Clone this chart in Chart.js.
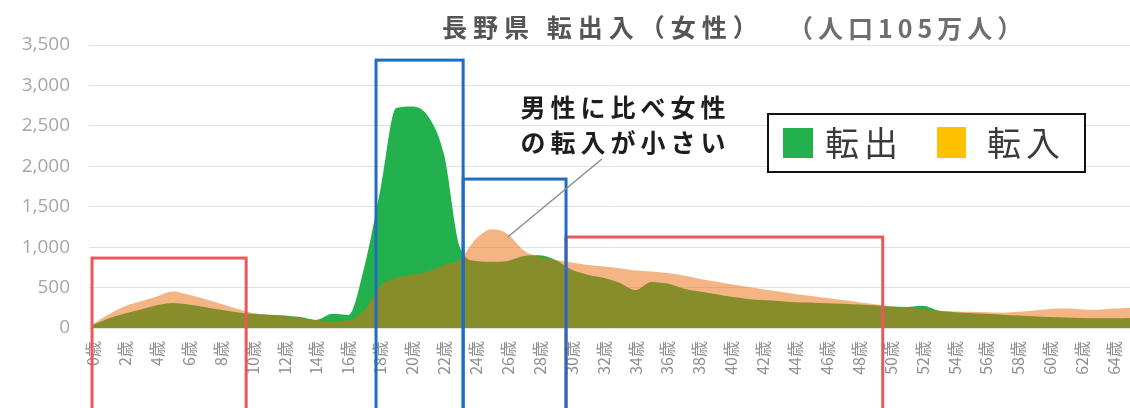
<!DOCTYPE html>
<html lang="ja">
<head>
<meta charset="utf-8">
<title>長野県 転出入（女性）</title>
<script src="https://cdn.jsdelivr.net/npm/chart.js@4.4.1/dist/chart.umd.min.js"></script>
<style>
  html, body { margin: 0; padding: 0; background: #fff; overflow: hidden; }
  #wrap { position: relative; width: 1130px; height: 408px; }
</style>
</head>
<body>
<div id="wrap"><canvas id="chart" width="1130" height="408"></canvas></div>
<script>
// 年齢（0〜65歳）
const ages = [
  '0歳','1歳','2歳','3歳','4歳','5歳','6歳','7歳','8歳','9歳',
  '10歳','11歳','12歳','13歳','14歳','15歳','16歳','17歳','18歳','19歳',
  '20歳','21歳','22歳','23歳','24歳','25歳','26歳','27歳','28歳','29歳',
  '30歳','31歳','32歳','33歳','34歳','35歳','36歳','37歳','38歳','39歳',
  '40歳','41歳','42歳','43歳','44歳','45歳','46歳','47歳','48歳','49歳',
  '50歳','51歳','52歳','53歳','54歳','55歳','56歳','57歳','58歳','59歳',
  '60歳','61歳','62歳','63歳','64歳','65歳'
];

// 転出（人）
const outflow = [
  40, 120, 180, 230, 280, 310, 290, 260, 225, 195,
  175, 165, 155, 135, 100, 175, 160, 750, 1700, 2720,
  2740, 2620, 2150, 1000, 830, 820, 830, 890, 900, 840,
  720, 660, 620, 560, 470, 570, 550, 490, 450, 420,
  385, 360, 345, 335, 320, 315, 305, 300, 290, 280,
  265, 260, 275, 215, 195, 185, 175, 165, 155, 145,
  135, 130, 125, 120, 120, 125
];

// 転入（人）
const inflow = [
  50, 170, 270, 330, 390, 450, 410, 360, 300, 240,
  185, 165, 150, 125, 95, 85, 95, 220, 520, 620,
  660, 700, 780, 850, 1100, 1220, 1160, 960, 880, 840,
  810, 780, 760, 740, 710, 700, 680, 650, 610, 575,
  540, 510, 480, 450, 420, 395, 370, 345, 320, 295,
  270, 255, 235, 210, 205, 200, 195, 190, 200, 215,
  235, 240, 230, 225, 240, 250
];

const yTicks = [0, 500, 1000, 1500, 2000, 2500, 3000, 3500];

// 強調枠： [開始年齢, 終了年齢, 上端の人数]
const redBoxes = [[-0.06, 9.6, 865], [29.65, 49.5, 1125]];
const blueBoxes = [[17.74, 23.2, 3313], [23.2, 29.65, 1842]];

// 吹き出し： 文字の左端・各行の高さ、引き出し線の始点と終点（年齢, 人数）
const noteLines = ['男性に比べ女性', 'の転入が小さい'];
const noteAnchor = [26.8, 2732, 2300];
const noteLeader = [[31.9, 2090], [26.0, 1125]];

const FONT = '"Noto Sans CJK JP", "Noto Sans", sans-serif';
const GREEN = 'rgb(34,177,76)';
const ORANGE_FILL = 'rgba(235,105,10,0.5)';

// タイトル・注記・枠・凡例をまとめて描く
const overlay = {
  id: 'overlay',
  afterDatasetsDraw(chart) {
    const ctx = chart.ctx;
    const x = chart.scales.x, y = chart.scales.y;
    const bottom = chart.height + 5;

    ctx.save();
    ctx.lineWidth = 3;
    ctx.strokeStyle = '#e8585c';
    redBoxes.forEach(([a, b, top]) => {
      const x1 = x.getPixelForValue(a), x2 = x.getPixelForValue(b), y1 = y.getPixelForValue(top);
      ctx.strokeRect(x1, y1, x2 - x1, bottom - y1);
    });
    ctx.strokeStyle = '#1f6cc0';
    blueBoxes.forEach(([a, b, top]) => {
      const x1 = x.getPixelForValue(a), x2 = x.getPixelForValue(b), y1 = y.getPixelForValue(top);
      ctx.strokeRect(x1, y1, x2 - x1, bottom - y1);
    });

    // 引き出し線
    ctx.strokeStyle = '#8c8c8c';
    ctx.lineWidth = 1.5;
    ctx.beginPath();
    ctx.moveTo(x.getPixelForValue(noteLeader[0][0]), y.getPixelForValue(noteLeader[0][1]));
    ctx.lineTo(x.getPixelForValue(noteLeader[1][0]), y.getPixelForValue(noteLeader[1][1]));
    ctx.stroke();

    ctx.textBaseline = 'middle';
    ctx.textAlign = 'left';
    ctx.fillStyle = '#1e1e1e';
    ctx.font = 'bold 25px ' + FONT;
    ctx.letterSpacing = '5px';
    const nx = x.getPixelForValue(noteAnchor[0]);
    ctx.fillText(noteLines[0], nx, y.getPixelForValue(noteAnchor[1]));
    ctx.fillText(noteLines[1], nx, y.getPixelForValue(noteAnchor[2]));

    // タイトル
    ctx.fillStyle = '#555';
    ctx.letterSpacing = '6px';
    ctx.fillText('長野県 転出入（女性）', 442, 27);
    ctx.font = 'bold 25px ' + FONT;
    ctx.letterSpacing = '5px';
    ctx.fillStyle = '#6e6e6e';
    ctx.fillText('（人口105万人）', 788, 28);

    // 凡例
    ctx.fillStyle = '#fff';
    ctx.fillRect(768, 114, 317, 58);
    ctx.strokeStyle = '#111';
    ctx.lineWidth = 2;
    ctx.strokeRect(768, 114, 317, 58);
    ctx.fillStyle = GREEN;
    ctx.fillRect(783, 128, 30, 30);
    ctx.fillStyle = '#ffc000';
    ctx.fillRect(937, 127, 29, 31);
    ctx.fillStyle = '#3a3a3a';
    ctx.font = '34px ' + FONT;
    ctx.letterSpacing = '5px';
    ctx.fillText('転出', 825, 143);
    ctx.fillText('転入', 987, 143);
    ctx.restore();
  }
};

new Chart(document.getElementById('chart'), {
  type: 'line',
  data: {
    labels: ages,
    datasets: [
      {
        label: '転出',
        data: outflow,
        order: 1,
        fill: 'origin',
        backgroundColor: GREEN,
        borderWidth: 0,
        pointRadius: 0,
        cubicInterpolationMode: 'monotone'
      },
      {
        label: '転入',
        data: inflow,
        order: 0,
        fill: 'origin',
        backgroundColor: ORANGE_FILL,
        borderWidth: 0,
        pointRadius: 0,
        cubicInterpolationMode: 'monotone'
      }
    ]
  },
  options: {
    responsive: false,
    animation: false,
    layout: { padding: { top: 45, left: 0, right: 0, bottom: 0 } },
    plugins: {
      legend: { display: false },
      tooltip: { enabled: false }
    },
    scales: {
      x: {
        grid: { display: false },
        border: { display: false },
        ticks: {
          autoSkip: false,
          minRotation: 90,
          maxRotation: 90,
          padding: 5,
          color: '#8f8f8f',
          font: { family: FONT, size: 16 },
          callback: (v, i) => (i % 2 === 0 ? ages[i] : null)
        },
        afterFit: s => {
          s.height = 80;
          s.paddingLeft = 0;
          s.paddingRight = 0;
        }
      },
      y: {
        min: 0,
        max: 3500,
        afterBuildTicks: s => { s.ticks = yTicks.map(v => ({ value: v })); },
        grid: { color: '#e2e2e2', tickLength: 4 },
        border: { display: false },
        ticks: {
          padding: 19,
          color: '#a6a6a6',
          font: { family: '"Open Sans", sans-serif', size: 19 },
          callback: v => v.toLocaleString('en-US')
        },
        afterFit: s => { s.width = 93; }
      }
    }
  },
  plugins: [overlay]
});
</script>
</body>
</html>
